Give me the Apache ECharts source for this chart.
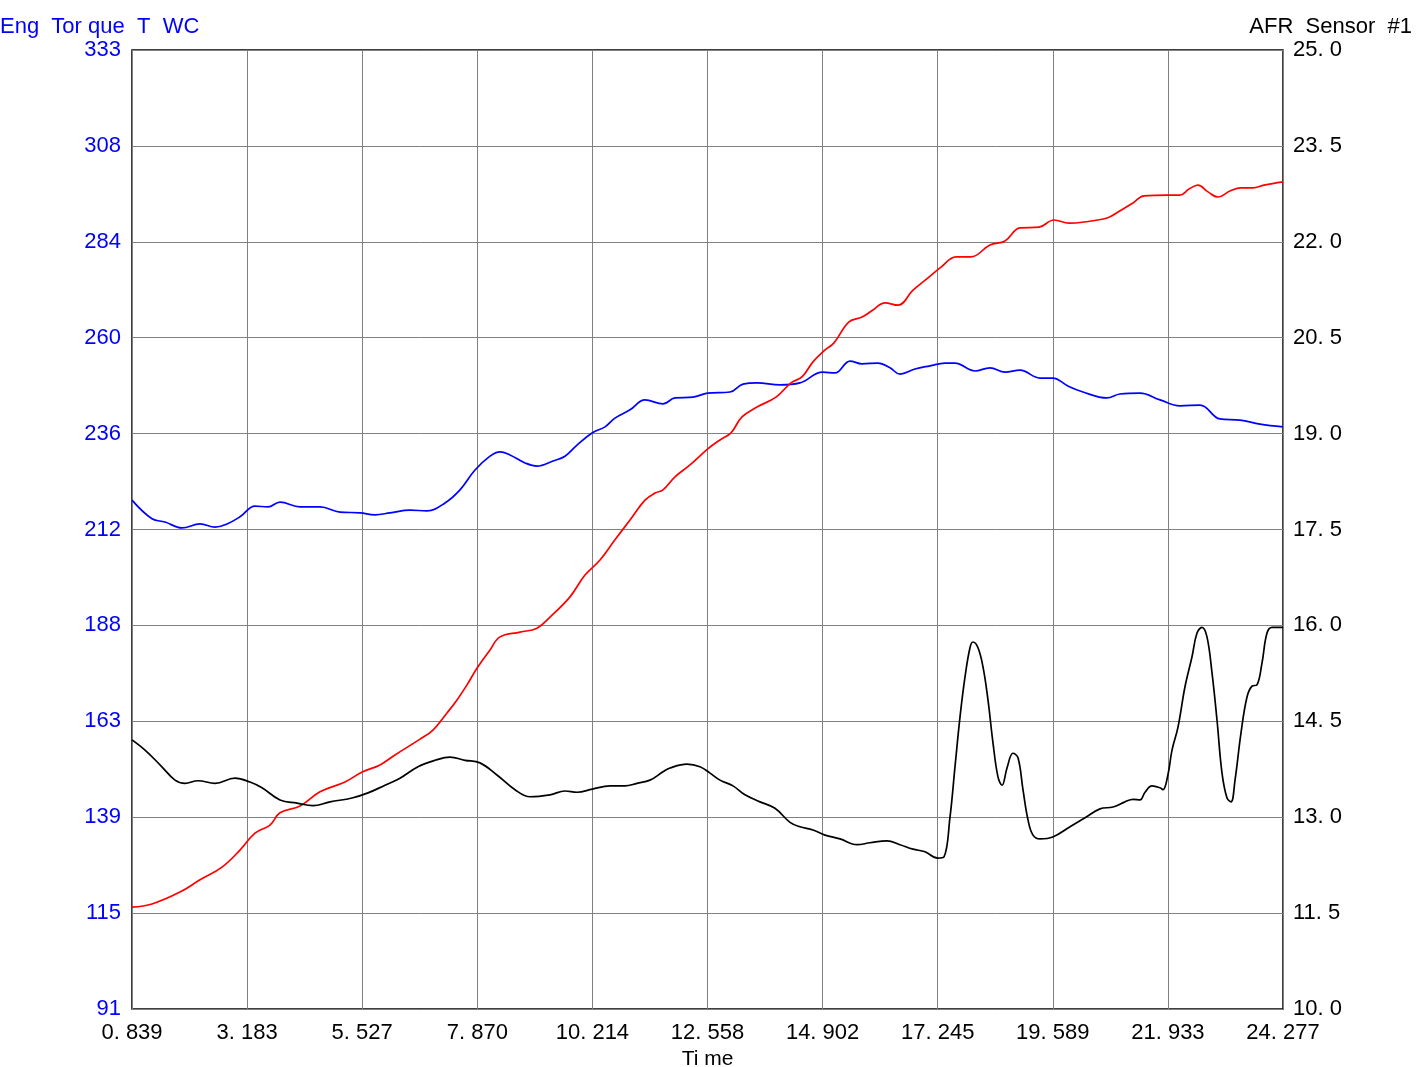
<!DOCTYPE html>
<html>
<head>
<meta charset="utf-8">
<title>Eng Torque / AFR</title>
<script src="https://cdn.jsdelivr.net/npm/echarts@6/dist/echarts.min.js"></script>
<style>
  html, body { margin: 0; padding: 0; background: #fff; overflow: hidden; }
  #chart { width: 1423px; height: 1067px; }
</style>
</head>
<body>
<div id="chart"></div>
<script>
// axis tick labels as printed on the original
var timeLabels = ['0. 839', '3. 183', '5. 527', '7. 870', '10. 214', '12. 558', '14. 902', '17. 245', '19. 589', '21. 933', '24. 277']
var torqueLabels = ['91', '115', '139', '163', '188', '212', '236', '260', '284', '308', '333']
var afrLabels = ['10. 0', '11. 5', '13. 0', '14. 5', '16. 0', '17. 5', '19. 0', '20. 5', '22. 0', '23. 5', '25. 0']

// Eng Torque (blue, left axis)
var torqueTime = [0.839, 1.246, 1.511, 1.857, 2.224, 2.529, 2.773, 3.038, 3.344, 3.608, 3.853, 4.260, 4.667, 5.075, 5.482, 5.787, 6.093, 6.500, 6.846, 7.213, 7.518, 7.824, 8.129, 8.333, 8.536, 8.842, 9.086, 9.412, 9.656, 9.901, 10.214, 10.471, 10.674, 10.980, 11.285, 11.652, 11.896, 12.263, 12.558, 13.016, 13.281, 13.566, 14.034, 14.441, 14.902, 15.154, 15.460, 15.704, 16.030, 16.274, 16.478, 16.783, 17.089, 17.394, 17.598, 18.005, 18.310, 18.616, 18.921, 19.329, 19.589, 19.899, 20.204, 20.693, 20.958, 21.365, 21.772, 22.179, 22.587, 22.994, 23.401, 23.808, 24.277]
var torqueValues = [219.4, 214.7, 213.9, 212.4, 213.4, 212.6, 213.4, 215.2, 217.9, 217.7, 218.9, 217.7, 217.7, 216.4, 216.2, 215.7, 216.2, 216.9, 216.7, 218.7, 222.0, 227.0, 230.5, 231.6, 230.8, 228.8, 228.0, 229.3, 230.5, 233.3, 236.4, 237.9, 240.1, 242.2, 244.7, 243.7, 245.2, 245.4, 246.4, 246.7, 248.7, 249.0, 248.5, 249.0, 251.7, 251.5, 254.5, 253.8, 254.0, 252.8, 251.2, 252.5, 253.3, 254.0, 254.0, 252.0, 252.8, 251.7, 252.2, 250.2, 250.2, 248.2, 246.7, 245.2, 246.2, 246.4, 244.7, 243.2, 243.4, 239.9, 239.6, 238.6, 237.9]

// second trace (red, left axis scale)
var redTime = [0.839, 1.246, 1.816, 2.224, 2.672, 3.038, 3.344, 3.649, 3.853, 4.260, 4.667, 5.176, 5.527, 5.889, 6.194, 6.704, 6.968, 7.253, 7.457, 7.661, 7.870, 8.129, 8.333, 8.740, 9.086, 9.351, 9.758, 10.063, 10.369, 10.674, 10.980, 11.285, 11.489, 11.652, 11.896, 12.202, 12.558, 12.812, 13.036, 13.260, 13.566, 13.953, 14.258, 14.482, 14.706, 14.951, 15.134, 15.439, 15.704, 15.928, 16.172, 16.437, 16.743, 17.048, 17.313, 17.618, 17.924, 18.310, 18.616, 18.921, 19.308, 19.614, 19.919, 20.225, 20.693, 20.917, 21.222, 21.446, 21.915, 22.179, 22.363, 22.546, 22.750, 22.953, 23.197, 23.422, 23.666, 23.890, 24.277]
var redValues = [116.7, 117.5, 120.5, 123.6, 126.8, 131.1, 135.4, 137.4, 140.5, 142.2, 145.8, 148.3, 150.8, 152.6, 155.1, 159.1, 161.4, 165.7, 169.0, 172.8, 177.1, 181.6, 184.9, 186.1, 187.1, 189.9, 195.0, 200.5, 204.3, 209.4, 214.4, 219.4, 221.2, 222.0, 225.3, 228.3, 232.3, 234.6, 236.4, 240.4, 242.9, 245.4, 249.0, 250.5, 254.3, 257.3, 259.1, 264.4, 265.6, 267.4, 269.2, 268.6, 272.4, 275.5, 278.2, 280.8, 280.8, 283.8, 284.8, 288.1, 288.3, 290.1, 289.3, 289.6, 290.6, 292.1, 294.4, 296.2, 296.4, 296.4, 297.9, 298.9, 297.2, 295.9, 297.4, 298.2, 298.2, 298.9, 299.7]

// AFR Sensor #1 (black, right axis)
var afrTime = [0.839, 1.104, 1.409, 1.715, 1.918, 2.183, 2.529, 2.936, 3.242, 3.486, 3.853, 4.199, 4.525, 4.871, 5.319, 5.645, 5.991, 6.296, 6.663, 7.009, 7.314, 7.620, 7.925, 8.271, 8.638, 8.943, 9.351, 9.656, 9.901, 10.214, 10.573, 10.878, 11.122, 11.387, 11.652, 11.794, 12.140, 12.405, 12.609, 12.812, 13.077, 13.321, 13.627, 13.932, 14.238, 14.441, 14.706, 14.951, 15.256, 15.602, 15.867, 16.213, 16.478, 16.743, 16.987, 17.245, 17.374, 17.496, 17.598, 17.700, 17.801, 17.903, 17.964, 18.066, 18.168, 18.270, 18.372, 18.473, 18.555, 18.657, 18.779, 18.881, 18.982, 19.084, 19.186, 19.329, 19.589, 19.940, 20.245, 20.550, 20.815, 21.059, 21.222, 21.365, 21.467, 21.609, 21.772, 21.833, 21.933, 22.017, 22.139, 22.281, 22.424, 22.526, 22.627, 22.729, 22.831, 22.933, 23.035, 23.137, 23.218, 23.300, 23.422, 23.544, 23.646, 23.747, 23.849, 23.951, 24.053, 24.277]
var afrValues = [14.21, 14.05, 13.82, 13.58, 13.53, 13.57, 13.53, 13.61, 13.55, 13.46, 13.27, 13.22, 13.18, 13.24, 13.30, 13.38, 13.50, 13.61, 13.79, 13.89, 13.94, 13.89, 13.85, 13.66, 13.43, 13.32, 13.35, 13.41, 13.39, 13.44, 13.49, 13.49, 13.53, 13.58, 13.71, 13.77, 13.83, 13.79, 13.69, 13.58, 13.49, 13.35, 13.24, 13.14, 12.92, 12.85, 12.80, 12.72, 12.66, 12.57, 12.60, 12.63, 12.57, 12.50, 12.46, 12.36, 12.38, 13.00, 13.79, 14.57, 15.19, 15.65, 15.74, 15.65, 15.35, 14.83, 14.16, 13.63, 13.50, 13.77, 14.00, 13.93, 13.43, 12.96, 12.72, 12.66, 12.69, 12.85, 12.99, 13.13, 13.16, 13.24, 13.28, 13.27, 13.39, 13.49, 13.46, 13.43, 13.66, 14.05, 14.41, 15.04, 15.51, 15.88, 15.97, 15.82, 15.26, 14.52, 13.69, 13.30, 13.24, 13.58, 14.32, 14.88, 15.05, 15.07, 15.41, 15.88, 15.97, 15.97]

function zip(xs, ys) {
  return xs.map(function (x, i) { return [x, ys[i]] })
}

var font = 'Liberation Sans, Arial, sans-serif'
var gridLine = { show: true, lineStyle: { color: '#808080', width: 1 } }

var myChart = echarts.init(document.getElementById('chart'))
myChart.setOption({
  animation: false,
  backgroundColor: '#fff',
  title: [
    {
      text: 'Eng  Tor que  T  WC',
      left: 0, top: 16, padding: 0,
      textStyle: { color: '#0000ff', fontSize: 22, fontWeight: 'normal', fontFamily: font }
    },
    {
      text: 'AFR  Sensor  #1',
      right: 11, top: 16, padding: 0,
      textStyle: { color: '#000', fontSize: 22, fontWeight: 'normal', fontFamily: font }
    }
  ],
  grid: {
    left: 132, right: 140, top: 50, bottom: 58,
    outerBoundsMode: 'none',
    show: true, borderColor: '#000', borderWidth: 1.5
  },
  xAxis: {
    type: 'value',
    min: 0.839, max: 24.277, interval: 2.3438,
    name: 'Ti me', nameLocation: 'middle', nameGap: 32,
    nameTextStyle: { color: '#000', fontSize: 21, fontFamily: font },
    axisLine: { show: false },
    axisTick: { show: false },
    splitLine: gridLine,
    axisLabel: {
      color: '#000', fontSize: 22, fontFamily: font, margin: 13,
      formatter: function (v) { return timeLabels[Math.round((v - 0.839) / 2.3438)] }
    }
  },
  yAxis: [
    {
      type: 'value',
      min: 91, max: 333, interval: 24.2,
      axisLine: { show: false },
      axisTick: { show: false },
      splitLine: gridLine,
      axisLabel: {
        color: '#0000ff', fontSize: 22, fontFamily: font, margin: 11,
        formatter: function (v) { return torqueLabels[Math.round((v - 91) / 24.2)] }
      }
    },
    {
      type: 'value',
      min: 10, max: 25, interval: 1.5,
      position: 'right',
      axisLine: { show: false },
      axisTick: { show: false },
      splitLine: { show: false },
      axisLabel: {
        color: '#000', fontSize: 22, fontFamily: font, margin: 10,
        formatter: function (v) { return afrLabels[Math.round((v - 10) / 1.5)] }
      }
    }
  ],
  series: [
    {
      name: 'Eng Torque T WC',
      type: 'line',
      yAxisIndex: 0,
      smooth: 0.4,
      showSymbol: false,
      lineStyle: { color: '#0000ff', width: 1.7 },
      data: zip(torqueTime, torqueValues)
    },
    {
      name: 'Trace 2',
      type: 'line',
      yAxisIndex: 0,
      smooth: 0.4,
      showSymbol: false,
      lineStyle: { color: '#ff0000', width: 1.7 },
      data: zip(redTime, redValues)
    },
    {
      name: 'AFR Sensor #1',
      type: 'line',
      yAxisIndex: 1,
      smooth: 0.4,
      showSymbol: false,
      lineStyle: { color: '#000', width: 1.7 },
      data: zip(afrTime, afrValues)
    }
  ]
})
</script>
</body>
</html>
